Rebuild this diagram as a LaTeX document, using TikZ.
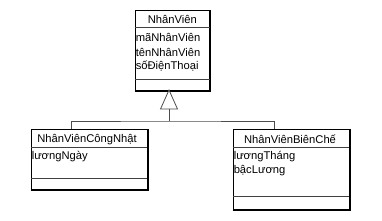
\documentclass[tikz,border=0pt]{standalone}
\usepackage{fontspec}
\setmainfont{Liberation Sans}
\usetikzlibrary{fit}
\begin{document}
\begin{tikzpicture}[x=0.75pt,y=-0.75pt,
  cls/.style={draw=black,line width=0.7pt,inner sep=0pt},
  sep/.style={draw=black!75,line width=0.5pt},
  hdr/.style={font=\fontsize{8.4}{10}\selectfont,inner sep=0pt,anchor=center},
  attr/.style={font=\fontsize{8.4}{10}\selectfont,inner sep=0pt,anchor=west},
  conn/.style={draw=black!70,line width=0.6pt},
  shadowline/.style={draw=black,line width=0.7pt}]
\useasboundingbox (0,0) rectangle (382,221);
% top class
\node[cls,fit={(135,10.5)(209.5,90)}] (nv) {};
\draw[shadowline] ([yshift=-0.5pt]nv.south west) -- ([xshift=0.5pt,yshift=-0.5pt]nv.south east) -- ([xshift=0.5pt]nv.north east);
\draw[sep] (135,27.5) -- (209.5,27.5);
\draw[sep] (135,79) -- (209.5,79);
\node[hdr] (nvh) at (172.25,19.5) {NhânViên};
\node[attr] (nva1) at (135.5,37.3) {mãNhânViên};
\node[attr] (nva2) at (135.5,52.0) {tênNhânViên};
\node[attr] (nva3) at (135.5,66.5) {sốĐiệnThoại};
% left class
\node[cls,fit={(31,129)(147,189)}] (cn) {};
\draw[shadowline] ([yshift=-0.5pt]cn.south west) -- ([xshift=0.5pt,yshift=-0.5pt]cn.south east) -- ([xshift=0.5pt]cn.north east);
\draw[sep] (31,147.7) -- (147,147.7);
\draw[sep] (31,178) -- (147,178);
\node[hdr] (cnh) at (87,139.3) {NhânViênCôngNhật};
\node[attr] (cna1) at (31.5,156.7) {lươngNgày};
% right class
\node[cls,fit={(233,129)(349,209)}] (bc) {};
\draw[shadowline] ([yshift=-0.5pt]bc.south west) -- ([xshift=0.5pt,yshift=-0.5pt]bc.south east) -- ([xshift=0.5pt]bc.north east);
\draw[sep] (233,147.7) -- (349,147.7);
\draw[sep] (233,196.7) -- (349,196.7);
\node[hdr] (bch) at (290,139.3) {NhânViênBiênChế};
\node[attr] (bca1) at (233.5,156.7) {lươngTháng};
\node[attr] (bca2) at (233.5,171.0) {bậcLương};
% generalization
\coordinate (apex) at (169,90);
\coordinate (tbase) at (169,109);
\coordinate (joint) at (169,121);
\draw[conn,fill=white] (apex) -- (160.5,109) -- (177.5,109) -- cycle;
\draw[conn] (tbase) -- (joint);
\draw[conn] (cn.north -| 71,0) -- (71,121) -- (joint) -- (274,121) -- (bc.north -| 274,0);
\end{tikzpicture}
\end{document}
